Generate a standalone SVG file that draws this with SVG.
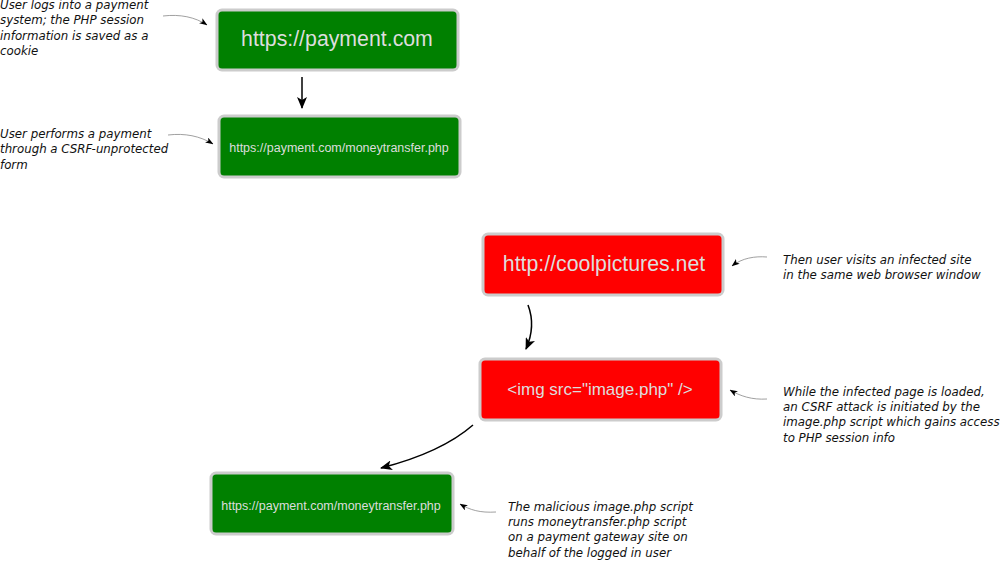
<svg xmlns="http://www.w3.org/2000/svg" width="1006" height="562" viewBox="0 0 1006 562">
<style>
.box{stroke:#cccccc;stroke-width:3}
.green{fill:#008000}
.red{fill:#ff0000}
.lbl{fill:#dddddd;font-family:"Liberation Sans",Arial,sans-serif;text-anchor:middle}
.note{fill:#111;font-family:"DejaVu Sans","Liberation Sans",sans-serif;font-size:11.8px;font-style:italic}
.conn{fill:none;stroke:#000;stroke-width:1.5}
.ann{fill:none;stroke:#888;stroke-width:0.8}
</style>
<defs>
<marker id="big" viewBox="0 0 12 10" refX="11" refY="5" markerWidth="12" markerHeight="10" markerUnits="userSpaceOnUse" orient="auto">
<path d="M0,0 L12,5 L0,10 L3,5 Z" fill="#000"/>
</marker>
<marker id="small" viewBox="0 0 8 6" refX="7.5" refY="3" markerWidth="8" markerHeight="6" markerUnits="userSpaceOnUse" orient="auto">
<path d="M0,0 L8,3 L0,6 L2,3 Z" fill="#000"/>
</marker>
</defs>
<rect width="1006" height="562" fill="#fff"/>
<g id="n1"><rect class="box green" x="217" y="10" width="241" height="60" rx="5"/><text class="lbl" x="337" y="46" font-size="21.3">https://payment.com</text></g>
<g id="n2"><rect class="box green" x="219" y="116" width="241" height="61" rx="5"/><text class="lbl" x="339" y="152" font-size="12.5">https://payment.com/moneytransfer.php</text></g>
<g id="n3"><rect class="box red" x="483" y="234" width="240" height="61" rx="5"/><text class="lbl" x="604" y="271" font-size="21.3">http://coolpictures.net</text></g>
<g id="n4"><rect class="box red" x="480" y="359" width="241" height="61" rx="5"/><text class="lbl" x="600" y="395" font-size="17">&lt;img src="image.php" /&gt;</text></g>
<g id="n5"><rect class="box green" x="211" y="473" width="242" height="61" rx="5"/><text class="lbl" x="331" y="510" font-size="12.5">https://payment.com/moneytransfer.php</text></g>
<g id="connectors">
<path class="conn" d="M302,77 L302,108" marker-end="url(#big)"/>
<path class="conn" d="M528,305 C533,318 533,333 526,349" marker-end="url(#big)"/>
<path class="conn" d="M473,425 C450,445 420,458 381,468" marker-end="url(#big)"/>
<path class="ann" d="M163,16 C180,14 195,17 207,25" marker-end="url(#small)"/>
<path class="ann" d="M168,135 C185,133 200,136 213,144" marker-end="url(#small)"/>
<path class="ann" d="M767,257 C755,256 742,258 732,266" marker-end="url(#small)"/>
<path class="ann" d="M767,399 C752,400 740,396 730,390" marker-end="url(#small)"/>
<path class="ann" d="M496,512 C480,513 470,510 460,504" marker-end="url(#small)"/>
</g>
<g id="notes">
<text class="note" x="0" y="9">User logs into a payment</text>
<text class="note" x="0" y="24">system; the PHP session</text>
<text class="note" x="0" y="40">information is saved as a</text>
<text class="note" x="0" y="55">cookie</text>
<text class="note" x="0" y="138">User performs a payment</text>
<text class="note" x="0" y="153">through a CSRF-unprotected</text>
<text class="note" x="0" y="169">form</text>
<text class="note" x="783" y="264">Then user visits an infected site</text>
<text class="note" x="783" y="279">in the same web browser window</text>
<text class="note" x="783" y="396">While the infected page is loaded,</text>
<text class="note" x="783" y="411">an CSRF attack is initiated by the</text>
<text class="note" x="783" y="426">image.php script which gains access</text>
<text class="note" x="783" y="442">to PHP session info</text>
<text class="note" x="508" y="511">The malicious image.php script</text>
<text class="note" x="508" y="526">runs moneytransfer.php script</text>
<text class="note" x="508" y="541">on a payment gateway site on</text>
<text class="note" x="508" y="557">behalf of the logged in user</text>
</g>
</svg>
